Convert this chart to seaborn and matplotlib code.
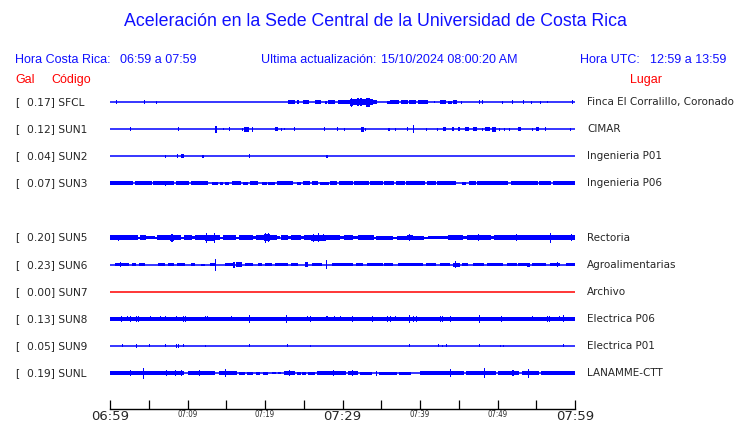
import pandas as pd
import seaborn as sns
import matplotlib.pyplot as plt
from matplotlib import transforms

# station table
codes = ['SFCL', 'SUN1', 'SUN2', 'SUN3', 'SUN5', 'SUN6', 'SUN7', 'SUN8', 'SUN9', 'SUNL']
places = ['Finca El Corralillo, Coronado', 'CIMAR', 'Ingenieria P01', 'Ingenieria P06',
          'Rectoria', 'Agroalimentarias', 'Archivo', 'Electrica P06', 'Electrica P01',
          'LANAMME-CTT']
gal = [0.17, 0.12, 0.04, 0.07, 0.20, 0.23, 0.00, 0.13, 0.05, 0.19]
trace_colors = ['#0000ff'] * 6 + ['#ff0000'] + ['#0000ff'] * 3

tick_minutes = list(range(0, 61, 5))
tick_labels = ['06:59', '', '07:09', '', '07:19', '', '07:29', '', '07:39', '', '07:49', '', '07:59']
big_ticks = ['06:59', '07:29', '07:59']

# envelope of each trace
# bands: (start minute, end minute, half height) ; spikes: (minute, half height)
sfcl_bands = [(23.0, 23.9, 2), (24.1, 24.4, 2), (24.9, 25.7, 2), (26.5, 27.2, 2), (27.7, 28.0, 1.5),
              (28.1, 29.0, 2), (29.4, 31.0, 2.3), (31.0, 31.4, 3.5), (31.4, 32.2, 2.8), (32.2, 32.5, 4.0),
              (32.5, 33.0, 3.0), (33.0, 33.5, 4.5), (33.5, 33.9, 3.0), (33.9, 34.4, 2), (35.7, 36.1, 1.5),
              (36.1, 37.3, 2), (37.5, 38.4, 2), (38.6, 39.5, 2), (39.7, 41.0, 2), (42.6, 43.4, 2),
              (43.6, 44.1, 1.5), (44.3, 44.8, 2)]
sfcl_spikes = [(0.9, 2), (4.5, 2), (6.0, 1.5), (31.2, 4.5), (32.0, 4.0), (41.9, 1), (45.3, 1.5), (47.7, 2),
               (48.1, 2), (50.6, 1.5), (51.9, 2), (53.3, 2), (54.4, 1.5), (55.5, 1.5), (56.5, 1), (59.7, 2)]

sun1_bands = [(13.5, 13.8, 3.5), (17.3, 17.9, 2.5), (18.3, 18.5, 2.5), (21.3, 21.7, 2), (32.4, 32.8, 2.5),
              (38.3, 38.5, 2), (43.0, 43.4, 2), (44.1, 44.4, 2), (44.9, 45.2, 2), (45.8, 46.3, 2),
              (46.9, 47.3, 2), (48.4, 49.0, 2), (49.3, 49.8, 2.5), (52.7, 53.0, 2), (55.0, 55.4, 2),
              (56.1, 56.3, 2)]
sun1_spikes = [(2.6, 2), (8.9, 2), (14.7, 1), (15.4, 2), (17.1, 1.5), (22.1, 1.5), (22.5, 1), (23.8, 2),
               (27.7, 2), (29.3, 2), (30.2, 1.5), (33.0, 1.5), (36.0, 1.5), (36.8, 1.5), (39.1, 4),
               (40.9, 1.5), (42.3, 1.5), (48.1, 1.5), (50.3, 1.5), (50.9, 1.5), (51.5, 1.5), (54.5, 1.5),
               (59.4, 1.5)]

sun2_bands = [(9.2, 9.5, 2)]
sun2_spikes = [(7.1, 1.5), (8.7, 2), (12.0, 1.5), (18.0, 2), (28.0, 1.5)]

sun3_bands = [(0.0, 3.0, 1.8), (3.2, 5.4, 1.8), (5.6, 8.3, 1.8), (8.5, 10.2, 1.8), (10.4, 12.7, 1.8),
              (13.1, 14.0, 1.5), (14.2, 14.6, 1.5), (14.8, 15.3, 1.5), (15.7, 16.9, 1.8), (17.2, 17.8, 1.5),
              (18.0, 19.1, 1.8), (19.6, 20.2, 1.5), (20.4, 21.3, 1.5), (21.5, 23.6, 1.8), (24.1, 24.7, 1.5),
              (24.9, 25.8, 1.8), (26.0, 26.9, 1.8), (27.1, 28.2, 1.5), (28.4, 29.3, 1.8), (29.5, 31.3, 1.8),
              (31.5, 33.4, 1.8), (33.6, 35.2, 1.8), (35.4, 36.7, 1.8), (36.9, 38.0, 1.8), (38.2, 40.7, 1.8),
              (40.9, 42.0, 1.8), (42.2, 44.6, 1.8), (45.4, 45.9, 1.5), (46.3, 47.2, 1.8), (47.4, 51.3, 1.8),
              (51.7, 55.2, 1.8), (55.4, 56.9, 1.8), (57.1, 60.0, 2.0)]
sun3_spikes = [(7.1, 2.5)]

sun5_bands = [(0.0, 1.0, 2.1), (1.0, 1.3, 2.8), (1.3, 3.6, 2.1), (3.6, 3.9, 1.0), (3.9, 4.6, 2.4),
              (4.6, 5.8, 1.9), (5.8, 6.1, 1.0), (6.1, 7.7, 2.1), (7.7, 8.3, 3.0), (8.3, 9.2, 2.1),
              (9.2, 9.5, 1.0), (9.5, 10.6, 2.1), (10.6, 11.0, 1.2), (11.0, 12.2, 2.1), (12.2, 13.6, 3.0),
              (13.6, 14.2, 2.6), (14.2, 14.6, 1.0), (14.6, 16.2, 2.1), (16.2, 16.6, 1.0), (16.6, 18.4, 2.1),
              (18.4, 18.8, 1.2), (18.8, 19.9, 2.1), (19.9, 20.6, 3.2), (20.6, 21.6, 2.3), (21.6, 22.0, 1.2),
              (22.0, 23.0, 2.1), (23.0, 23.4, 1.2), (23.4, 24.6, 2.1), (24.6, 25.0, 1.2), (25.0, 25.9, 2.1),
              (25.9, 27.9, 3.0), (27.9, 29.7, 2.1), (29.7, 30.2, 1.2), (30.2, 31.4, 2.3), (31.4, 32.0, 1.2),
              (32.0, 34.0, 2.1), (34.0, 34.3, 1.0), (34.3, 36.5, 2.0), (36.5, 37.0, 1.0), (37.0, 38.3, 2.0),
              (38.3, 39.1, 2.8), (39.1, 40.5, 2.0), (40.5, 41.0, 1.0), (41.0, 42.5, 1.9), (42.5, 43.6, 1.2),
              (43.6, 45.5, 2.1), (45.5, 46.0, 1.2), (46.0, 46.7, 2.1), (46.7, 48.6, 2.8), (48.6, 49.2, 2.1),
              (49.2, 49.5, 1.2), (49.5, 52.0, 2.3), (52.0, 53.1, 2.7), (53.1, 58.8, 2.3), (58.8, 60.0, 2.9)]
sun5_spikes = [(1.1, 3.0), (8.0, 4.0), (12.4, 5.0), (13.5, 5.0), (20.1, 5.0), (20.4, 4.5), (26.3, 4.0),
               (26.9, 4.5), (27.6, 3.5), (38.7, 3.5), (47.5, 3.5), (52.5, 3.2), (56.9, 5.0), (59.5, 3.5)]

sun6_bands = [(0.6, 2.4, 1.7), (2.8, 3.4, 1.5), (3.7, 4.5, 1.5), (6.2, 7.1, 1.7), (7.5, 8.2, 1.5),
              (8.6, 9.7, 1.5), (10.5, 11.0, 1.2), (11.8, 12.3, 1.0), (12.9, 13.5, 1.3), (14.9, 16.1, 1.7),
              (16.3, 17.0, 2.2), (17.4, 18.5, 1.5), (19.1, 19.6, 1.5), (20.0, 20.9, 1.5), (21.3, 23.0, 1.5),
              (23.4, 24.3, 1.5), (25.2, 25.6, 2.2), (26.0, 27.3, 1.7), (28.6, 31.4, 1.6), (31.8, 32.7, 1.5),
              (33.1, 35.2, 1.3), (35.4, 36.5, 1.3), (37.2, 40.4, 1.3), (40.8, 42.1, 1.2), (42.6, 43.9, 1.3),
              (44.3, 45.2, 2.0), (45.4, 46.2, 1.5), (46.9, 48.2, 1.7), (48.6, 50.7, 1.5), (51.2, 52.5, 1.5),
              (52.7, 53.8, 1.7), (53.8, 54.2, 2.0), (54.4, 56.3, 1.5), (56.8, 58.0, 1.5), (58.9, 60.0, 1.7)]
sun6_spikes = [(1.3, 2.5), (13.6, 6.0), (16.0, 3.0), (25.4, 2.5), (27.9, 4.5), (44.6, 3.5), (57.7, 2.5)]

sun7_bands = []
sun7_spikes = []

sun8_bands = [(0.0, 60.0, 2.0)]
sun8_spikes = [(1.5, 2.8), (2.2, 2.5), (2.7, 2.8), (3.4, 2.8), (3.7, 2.8), (5.2, 2.5), (6.5, 2.5), (7.1, 2.5),
               (8.6, 2.5), (9.5, 2.8), (9.7, 2.8), (11.0, 2.2), (12.3, 2.5), (12.6, 2.5), (15.7, 2.5),
               (18.0, 4.0), (22.8, 4.0), (25.5, 2.5), (25.9, 2.8), (28.0, 2.5), (29.0, 2.5), (29.7, 2.5),
               (31.3, 3.0), (33.9, 3.0), (35.2, 2.2), (35.8, 2.8), (36.2, 2.8), (36.9, 2.5), (38.6, 4.0),
               (39.1, 3.0), (39.6, 3.0), (40.2, 2.2), (42.7, 3.0), (42.9, 2.8), (43.9, 3.0), (47.7, 4.0),
               (50.5, 3.0), (51.0, 2.2), (52.8, 2.2), (54.5, 2.5), (55.2, 2.2), (56.4, 2.8), (56.7, 2.8),
               (58.0, 2.5), (58.5, 3.5)]

sun9_bands = []
sun9_spikes = [(1.6, 1.5), (3.4, 2), (5.1, 1.5), (7.1, 1.5), (8.6, 2), (8.8, 2), (9.5, 1.5), (12.3, 1),
               (18.0, 1.5), (22.9, 1.5), (25.9, 1), (38.6, 1.5), (42.4, 1.5), (42.9, 1), (43.4, 1.5),
               (47.7, 1.5), (50.4, 1), (50.8, 1), (58.5, 1.5)]

sunl_bands = [(0.0, 9.6, 1.7), (10.0, 13.6, 1.7), (14.0, 16.4, 1.7), (16.7, 17.4, 1.5), (17.7, 18.5, 1.5),
              (18.8, 19.4, 1.5), (19.8, 20.4, 1.5), (20.9, 21.4, 1.2), (21.7, 22.1, 1.2), (22.4, 23.9, 1.7),
              (24.1, 24.6, 1.5), (24.8, 25.3, 1.5), (25.5, 26.4, 1.5), (26.7, 30.5, 1.7), (30.7, 32.0, 1.7),
              (32.2, 33.8, 1.5), (34.7, 37.0, 1.5), (37.3, 38.9, 1.5), (40.0, 45.7, 1.7), (45.9, 49.8, 1.7),
              (50.1, 52.8, 1.7), (53.1, 55.4, 1.7), (55.6, 60.0, 1.7)]
sunl_spikes = [(2.7, 3), (4.3, 5.5), (7.3, 3), (8.4, 3), (9.2, 3), (11.6, 3), (14.9, 4), (23.2, 3), (28.9, 3),
               (31.3, 3), (34.4, 2.5), (43.9, 4), (48.3, 5), (52.0, 3), (54.0, 4.5)]

bands = [sfcl_bands, sun1_bands, sun2_bands, sun3_bands, sun5_bands,
         sun6_bands, sun7_bands, sun8_bands, sun9_bands, sunl_bands]
spikes = [sfcl_spikes, sun1_spikes, sun2_spikes, sun3_spikes, sun5_spikes,
          sun6_spikes, sun7_spikes, sun8_spikes, sun9_spikes, sunl_spikes]

# layout: rows in pixel units, SUN4 slot is left empty
row_slot = [0, 1, 2, 3, 5, 6, 7, 8, 9, 10]
row_y = [102 + 27.1 * s for s in row_slot]

sns.set_style('white')
plt.rcParams['font.family'] = ['DejaVu Sans']

fig = plt.figure(figsize=(7.4, 4.23), dpi=100)
ax = fig.add_axes([110 / 740, (423 - 409) / 423, 465 / 740, (409 - 90) / 423])

# base lines
base = pd.DataFrame({
    'code': [c for c in codes for _ in range(2)],
    'minute': [0, 60] * len(codes),
    'ypos': [y for y in row_y for _ in range(2)],
})
sns.lineplot(data=base, x='minute', y='ypos', hue='code', palette=dict(zip(codes, trace_colors)),
             estimator=None, legend=False, linewidth=1.1, ax=ax)

for y, col, bl, sp in zip(row_y, trace_colors, bands, spikes):
    if bl:
        ax.bar([b[0] for b in bl], [2 * b[2] for b in bl], width=[b[1] - b[0] for b in bl],
               bottom=[y - b[2] for b in bl], align='edge', color=col, linewidth=0)
    if sp:
        ax.bar([s[0] for s in sp], [2 * s[1] for s in sp], width=0.13,
               bottom=[y - s[1] for s in sp], align='center', color=col, linewidth=0)

ax.set_xlim(0, 60)
ax.set_ylim(409, 90)
ax.set_xlabel('')
ax.set_ylabel('')
ax.set_yticks([])
for s in ['top', 'left', 'right']:
    ax.spines[s].set_visible(False)
ax.spines['bottom'].set_color('black')
ax.spines['bottom'].set_linewidth(1.0)
ax.set_xticks(tick_minutes)
ax.set_xticklabels(tick_labels)
ax.tick_params(axis='x', bottom=True, direction='in', length=6.5, width=0.9, color='black', pad=0.8)
for lab in ax.get_xticklabels():
    if lab.get_text() in big_ticks:
        lab.set_fontsize(9.5)
    else:
        lab.set_fontsize(5.6)
        lab.set_fontstretch('condensed')

# station labels
trans = transforms.blended_transform_factory(fig.transFigure, ax.transData)
for y, code, place, g in zip(row_y, codes, places, gal):
    fig.text(15 / 740, y, '[', transform=trans, va='center', fontsize=7.7)
    fig.text(27 / 740, y, f'{g:.2f}] {code}', transform=trans, va='center', fontsize=7.7)
    fig.text(587 / 740, y, place, transform=trans, va='center', fontsize=7.5)

# header
hfont = 'Liberation Sans'
blue = '#1010ff'
fig.text(375.5 / 740, 1 - 22 / 423, 'Aceleración en la Sede Central de la Universidad de Costa Rica',
         ha='center', va='center', fontsize=12.8, color=blue, family=hfont)
info = [(15, 'Hora Costa Rica:'), (120, '06:59 a 07:59'), (261, 'Ultima actualización:'),
        (381, '15/10/2024 08:00:20 AM'), (580, 'Hora UTC:'), (650, '12:59 a 13:59')]
for px, txt in info:
    fig.text(px / 740, 1 - 60 / 423, txt, va='center', fontsize=9, color=blue, family=hfont)
for px, txt in [(15, 'Gal'), (51, 'Código'), (630, 'Lugar')]:
    fig.text(px / 740, 1 - 80 / 423, txt, va='center', fontsize=9, color='#ff0000', family=hfont)

fig.savefig('out.png', dpi=100)
